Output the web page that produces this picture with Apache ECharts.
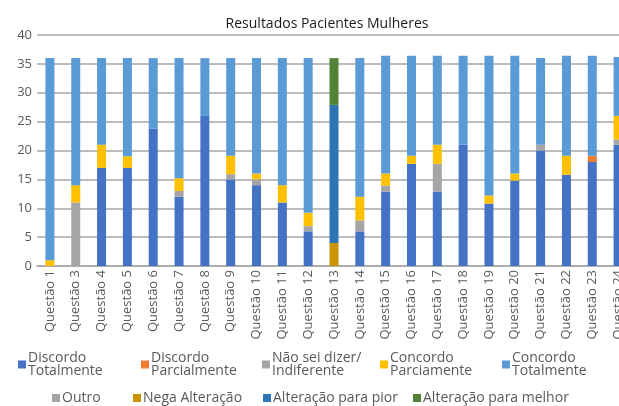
<!DOCTYPE html>
<html>
<head>
<meta charset="utf-8">
<script src="https://cdn.jsdelivr.net/npm/echarts@6/dist/echarts.min.js"></script>
<style>
html,body{margin:0;padding:0;background:#fff;}
#main{width:619px;height:406px;}
</style>
</head>
<body>
<div id="main"></div>
<script>
var categorias = ['Questão 1','Questão 3','Questão 4','Questão 5','Questão 6','Questão 7','Questão 8','Questão 9',
	'Questão 10','Questão 11','Questão 12','Questão 13','Questão 14','Questão 15','Questão 16','Questão 17',
	'Questão 18','Questão 19','Questão 20','Questão 21','Questão 22','Questão 23','Questão 24'];

var discordoTotalmente   = [0, 0, 17, 17, 23.8, 12, 26, 15, 14, 11, 6, 0, 6, 12.9, 17.7, 12.9, 21, 10.8, 14.8, 20, 15.8, 18, 21];
var discordoParcialmente = [0, 0, 0, 0, 0, 0, 0, 0, 0, 0, 0, 0, 0, 0, 0, 0, 0, 0, 0, 0, 0, 1.1, 0];
var naoSeiDizer          = [0, 11, 0, 0, 0, 1, 0, 0.9, 1, 0, 0.9, 0, 1.9, 1, 0, 4.8, 0, 0, 0, 1, 0, 0, 0.9];
var concordoParciamente  = [1, 3, 4, 2, 0, 2.2, 0, 3.2, 1, 3, 2.3, 0, 4.1, 2.1, 1.4, 3.3, 0, 1.4, 1.2, 0, 3.3, 0, 4.1];
var concordoTotalmente   = [35, 22, 15, 17, 12.2, 20.8, 10, 16.9, 20, 22, 26.8, 0, 24, 20.4, 17.3, 15.4, 15.4, 24.2, 20.4, 15, 17.3, 17.3, 10.2];
var outro                = [0, 0, 0, 0, 0, 0, 0, 0, 0, 0, 0, 0, 0, 0, 0, 0, 0, 0, 0, 0, 0, 0, 0];
var negaAlteracao        = [0, 0, 0, 0, 0, 0, 0, 0, 0, 0, 0, 4, 0, 0, 0, 0, 0, 0, 0, 0, 0, 0, 0];
var alteracaoPior        = [0, 0, 0, 0, 0, 0, 0, 0, 0, 0, 0, 23.9, 0, 0, 0, 0, 0, 0, 0, 0, 0, 0, 0];
var alteracaoMelhor      = [0, 0, 0, 0, 0, 0, 0, 0, 0, 0, 0, 8.1, 0, 0, 0, 0, 0, 0, 0, 0, 0, 0, 0];

var ticksY = {min: 0, max: 40, interval: 5};

var nomes = ['Discordo Totalmente','Discordo Parcialmente','Não sei dizer/ Indiferente','Concordo Parciamente',
	'Concordo Totalmente','Outro','Nega Alteração','Alteração para pior','Alteração para melhor'];
var rotulos = {
	'Discordo Totalmente': 'Discordo\nTotalmente',
	'Discordo Parcialmente': 'Discordo\nParcialmente',
	'Não sei dizer/ Indiferente': 'Não sei dizer/\nIndiferente',
	'Concordo Parciamente': 'Concordo\nParciamente',
	'Concordo Totalmente': 'Concordo\nTotalmente'
};
var cores = ['#4472C4','#ED7D31','#A5A5A5','#FFC000','#5B9BD5','#A5A5A5','#C99400','#2E75B6','#548235'];
var valores = [discordoTotalmente, discordoParcialmente, naoSeiDizer, concordoParciamente,
	concordoTotalmente, outro, negaAlteracao, alteracaoPior, alteracaoMelhor];

var fonte = '"Open Sans", "Noto Sans", sans-serif';

function createLegends(){
	// posicao de cada item da legenda (duas linhas)
	var lefts = [18, 141, 262, 380, 502, 52, 133, 263, 413];
	var legends = [];
	for (var i = 0; i < nomes.length; i++){
		legends.push({
			data: [nomes[i]],
			left: lefts[i],
			top: i < 5 ? 351 : 391,
			padding: 0,
			itemWidth: 8,
			itemHeight: 8,
			icon: 'rect',
			selectedMode: false,
			formatter: function (name){ return rotulos[name] || name; },
			textStyle: {
				fontFamily: fonte,
				fontSize: 14,
				lineHeight: 13,
				color: '#595959',
				padding: [0, 0, 0, -3]
			}
		});
	}
	return legends;
}

function createOption(){
	var series = [];
	for (var i = 0; i < nomes.length; i++){
		series.push({
			name: nomes[i],
			type: 'bar',
			stack: 'total',
			barWidth: 9,
			itemStyle: {color: cores[i]},
			data: valores[i]
		});
	}
	var option = {
		animation: false,
		title: {
			text: 'Resultados Pacientes Mulheres',
			left: 322,
			top: 12,
			textAlign: 'center',
			textStyle: {fontFamily: fonte, fontSize: 14, fontWeight: 'normal', color: '#1a1a1a'}
		},
		legend: createLegends(),
		grid: {
			left: 37,
			top: 35,
			width: 594,
			bottom: 140,
			outerBoundsMode: 'none'
		},
		xAxis: {
			type: 'category',
			data: categorias,
			axisLine: {lineStyle: {color: '#a6a6a6', width: 1.5}},
			axisTick: {show: false},
			axisLabel: {
				rotate: 90,
				interval: 0,
				margin: 4,
				fontFamily: fonte,
				fontSize: 13,
				color: '#595959'
			}
		},
		yAxis: {
			type: 'value',
			min: ticksY.min,
			max: ticksY.max,
			interval: ticksY.interval,
			axisLabel: {fontFamily: fonte, fontSize: 13, color: '#595959', margin: 5},
			splitLine: {lineStyle: {color: '#a6a6a6', width: 1.5}}
		},
		series: series
	};
	return option;
}

var myChart = echarts.init(document.getElementById('main'));
myChart.setOption(createOption());
</script>
</body>
</html>
